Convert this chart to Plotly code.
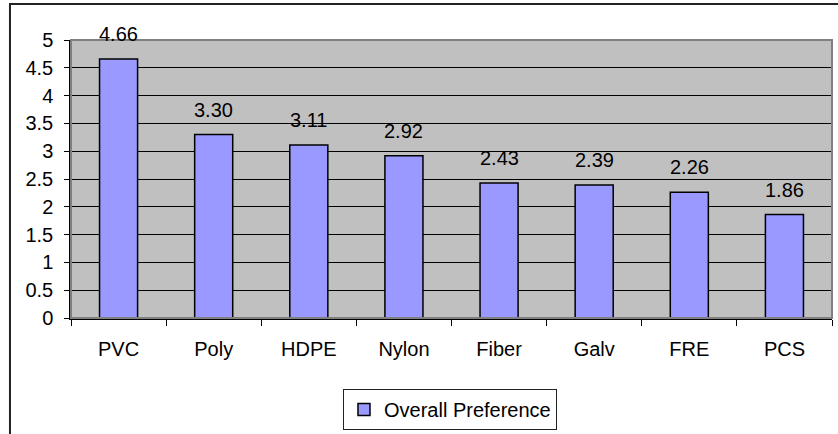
import plotly.graph_objects as go

categories = ["PVC", "Poly", "HDPE", "Nylon", "Fiber", "Galv", "FRE", "PCS"]
values = [4.66, 3.30, 3.11, 2.92, 2.43, 2.39, 2.26, 1.86]
series_name = "Overall Preference"
y_ticks = [0, 0.5, 1, 1.5, 2, 2.5, 3, 3.5, 4, 4.5, 5]
y_tick_labels = ["0", "0.5", "1", "1.5", "2", "2.5", "3", "3.5", "4", "4.5", "5"]

FONT = "Liberation Sans, Arial, sans-serif"

fig = go.Figure()
fig.add_trace(go.Bar(
    x=categories, y=values, name=series_name,
    marker=dict(color="#9999FF", line=dict(color="#000000", width=1.5)),
    width=0.4, showlegend=True,
))

for c, v in zip(categories, values):
    fig.add_annotation(x=c, y=v, text=f"{v:.2f}", showarrow=False,
                       yanchor="middle", yshift=25,
                       font=dict(family=FONT, size=20, color="#000"))

# outer chart frame
fig.add_shape(type="rect", xref="paper", yref="paper",
              x0=-0.0802, y0=-0.6, x1=1.2, y1=1.1295,
              line=dict(color="#222", width=2), layer="above")
# plot-area border (gray)
fig.add_shape(type="rect", xref="paper", yref="paper",
              x0=0, y0=0, x1=1, y1=1,
              line=dict(color="#808080", width=2), layer="above")

fig.update_layout(
    width=838, height=434,
    margin=dict(l=71, r=6, t=40, b=116, autoexpand=False),
    paper_bgcolor="white", plot_bgcolor="#C0C0C0",
    font=dict(family=FONT, size=20, color="#000"),
    showlegend=True,
    legend=dict(orientation="h", x=0.498, xanchor="center", y=-0.255, yanchor="top",
                bordercolor="#222", borderwidth=1, bgcolor="white",
                font=dict(family=FONT, size=20)),
    xaxis=dict(type="category", showline=True, linecolor="#000", linewidth=1.5,
               ticks="outside", tickson="boundaries", ticklen=6, tickcolor="#000",
               showgrid=False, ticklabelstandoff=12, automargin=False),
    yaxis=dict(range=[0, 5], tickmode="array", tickvals=y_ticks, ticktext=y_tick_labels,
               showline=True, linecolor="#000", linewidth=1.5,
               ticks="outside", ticklen=5, tickcolor="#000",
               showgrid=True, gridcolor="black", gridwidth=1.2, zeroline=False,
               ticklabelstandoff=7, automargin=False),
)

fig.write_html("out.html", config={"displayModeBar": False},
               post_script="document.body.style.margin='0';document.body.style.padding='0';")
